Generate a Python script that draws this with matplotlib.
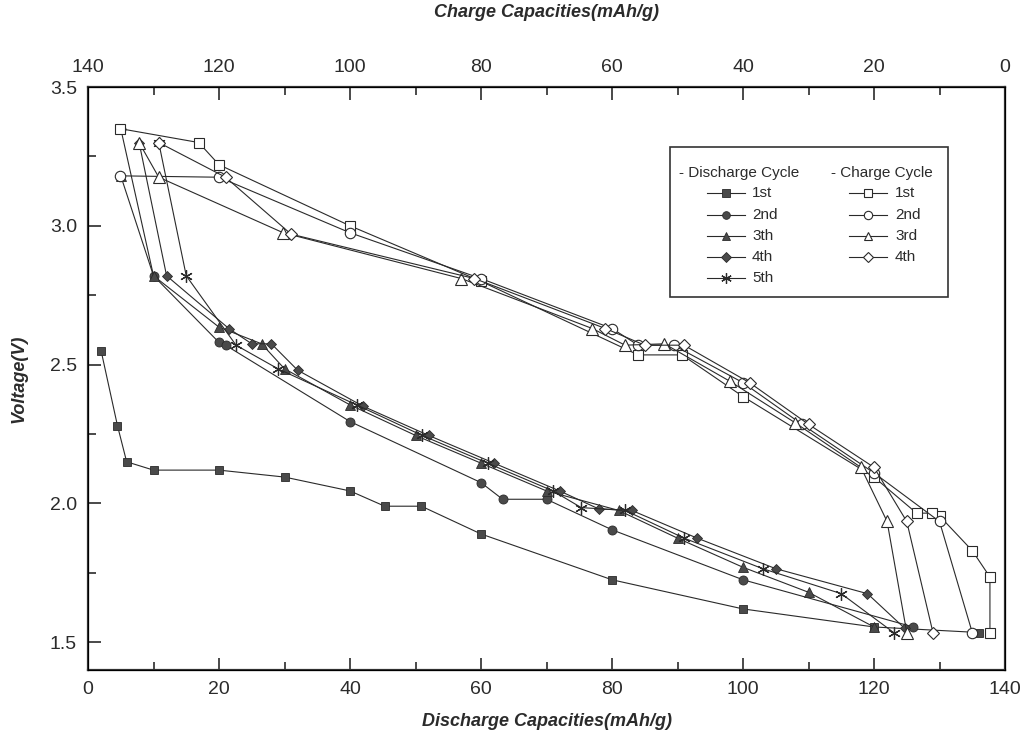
import matplotlib
matplotlib.use('Agg')
import matplotlib.pyplot as plt
from matplotlib.lines import Line2D
from matplotlib.patches import Rectangle
from matplotlib.ticker import MultipleLocator, FormatStrFormatter

plt.rcParams['font.family'] = ['Liberation Sans', 'DejaVu Sans']

# Discharge curves, x = discharge capacity (mAh/g), bottom axis
dis1_x = [2, 4.5, 5.9, 10, 20, 30, 40, 45.3, 50.9, 60, 80, 100, 120, 136]
dis1_v = [2.55, 2.28, 2.15, 2.12, 2.12, 2.095, 2.045, 1.99, 1.99, 1.89, 1.725, 1.62, 1.555, 1.535]
dis2_x = [5, 10, 20, 21, 40, 60, 63.3, 70, 80, 100, 126]
dis2_v = [3.35, 2.82, 2.58, 2.57, 2.295, 2.075, 2.015, 2.015, 1.905, 1.725, 1.555]
dis3_x = [5, 10, 20, 26.5, 30, 40, 50, 60, 70, 81, 90, 100, 110, 120]
dis3_v = [3.18, 2.82, 2.635, 2.575, 2.485, 2.355, 2.245, 2.145, 2.045, 1.975, 1.875, 1.77, 1.68, 1.555]
dis4_x = [7.8, 12, 21.5, 25, 28, 32, 42, 52, 62, 72, 78, 83, 93, 105, 119, 124.7]
dis4_v = [3.30, 2.82, 2.63, 2.575, 2.575, 2.48, 2.35, 2.245, 2.145, 2.045, 1.98, 1.975, 1.875, 1.765, 1.675, 1.55]
dis5_x = [10.8, 15, 22.6, 29, 41, 51, 61, 71, 75.3, 82, 91, 103, 115, 123]
dis5_v = [3.30, 2.82, 2.57, 2.485, 2.355, 2.245, 2.145, 2.045, 1.985, 1.975, 1.875, 1.765, 1.675, 1.535]

# Charge curves, x = charge capacity (mAh/g), top axis (reversed)
chg1_x = [2.3, 2.3, 5, 10, 11.2, 13.5, 20, 40, 49.3, 56, 80, 100, 120, 123.1, 135.1]
chg1_v = [1.535, 1.735, 1.83, 1.955, 1.965, 1.965, 2.095, 2.385, 2.535, 2.535, 2.80, 3.00, 3.22, 3.30, 3.35]
chg2_x = [5, 10, 20, 31, 40, 50.6, 56, 60, 80, 100, 120, 135.1]
chg2_v = [1.535, 1.935, 2.11, 2.285, 2.435, 2.57, 2.57, 2.63, 2.81, 2.975, 3.175, 3.18]
chg3_x = [15, 18, 22, 32, 42, 52, 58, 63, 83, 110.2, 129.2, 132.2]
chg3_v = [1.535, 1.935, 2.13, 2.29, 2.44, 2.575, 2.57, 2.63, 2.81, 2.975, 3.175, 3.30]
chg4_x = [11, 15, 20, 30, 39, 49, 55, 61, 81, 109, 119, 129.2]
chg4_v = [1.535, 1.935, 2.13, 2.285, 2.435, 2.57, 2.57, 2.63, 2.81, 2.97, 3.175, 3.30]

dis_labels = ['1st', '2nd', '3th', '4th', '5th']
chg_labels = ['1st', '2nd', '3rd', '4th']

line_c = '#2a2a2a'
fill_c = '#4a4a4a'
text_c = '#2b2b2b'

fig = plt.figure(figsize=(10.23, 7.35), dpi=100)
ax = fig.add_axes([88 / 1023, 1 - 670 / 735, 917 / 1023, 583 / 735])

dis_data = [(dis1_x, dis1_v, 's', 6), (dis2_x, dis2_v, 'o', 6.5), (dis3_x, dis3_v, '^', 7),
            (dis4_x, dis4_v, 'D', 5.5), (dis5_x, dis5_v, (6, 2, 0), 9)]
for (x, v, m, ms) in dis_data:
    if m == (6, 2, 0):
        ax.plot(x, v, color=line_c, lw=0.8, marker=m, ms=ms, mec=line_c, mew=0.9)
    else:
        ax.plot(x, v, color=line_c, lw=0.8, marker=m, ms=ms, mfc=fill_c, mec=line_c, mew=0.6)

ax.set_xlim(0, 140)
ax.set_ylim(1.4, 3.5)
ax.xaxis.set_major_locator(MultipleLocator(20))
ax.xaxis.set_minor_locator(MultipleLocator(10))
ax.yaxis.set_major_locator(MultipleLocator(0.5))
ax.yaxis.set_minor_locator(MultipleLocator(0.25))
ax.yaxis.set_major_formatter(FormatStrFormatter('%.1f'))
ax.tick_params(which='both', direction='in', top=False, right=False, labelsize=14, width=1.2, colors=text_c)
ax.tick_params(which='major', length=9)
ax.tick_params(which='minor', length=6)
ax.tick_params(axis='x', pad=8)
ax.tick_params(axis='y', pad=8)
for s in ax.spines.values():
    s.set_linewidth(1.6)
    s.set_color('#333333')
ax.set_xlabel('Discharge Capacities(mAh/g)', fontsize=13, fontweight='bold', style='italic', color=text_c, labelpad=11)
ax.set_ylabel('Voltage(V)', fontsize=13, fontweight='bold', style='italic', color=text_c, labelpad=16)

ax2 = ax.twiny()
ax2.set_xlim(140, 0)
chg_data = [(chg1_x, chg1_v, 's', 7), (chg2_x, chg2_v, 'o', 7.5), (chg3_x, chg3_v, '^', 8), (chg4_x, chg4_v, 'D', 6)]
for (x, v, m, ms) in chg_data:
    ax2.plot(x, v, color=line_c, lw=0.8, marker=m, ms=ms, mfc='white', mec=line_c, mew=0.8)
ax2.xaxis.set_major_locator(MultipleLocator(20))
ax2.xaxis.set_minor_locator(MultipleLocator(10))
ax2.tick_params(which='both', direction='in', labelsize=14, width=1.2, colors=text_c, pad=8)
ax2.tick_params(which='major', length=9)
ax2.tick_params(which='minor', length=6)
ax2.set_xlabel('Charge Capacities(mAh/g)', fontsize=13, fontweight='bold', style='italic', color=text_c, labelpad=30)

# legend drawn by hand: two headed columns
def fx(px):
    return (px - 88) / 917

def fy(py):
    return (670 - py) / 583

ax2.add_patch(Rectangle((fx(670), fy(297)), fx(948) - fx(670), fy(147) - fy(297), transform=ax2.transAxes,
                        fill=True, facecolor='white', edgecolor='#333333', lw=1.2, zorder=5))
ax2.text(fx(679), fy(173), '- Discharge Cycle', transform=ax2.transAxes, fontsize=11, va='center', color=text_c, zorder=6)
ax2.text(fx(831), fy(173), '- Charge Cycle', transform=ax2.transAxes, fontsize=11, va='center', color=text_c, zorder=6)
rows = [193, 215, 236, 257, 278]
for i, (lab, (x, v, m, ms)) in enumerate(zip(dis_labels, dis_data)):
    y = fy(rows[i])
    if m == (6, 2, 0):
        kw = dict(mec=line_c, mew=0.9)
    else:
        kw = dict(mfc=fill_c, mec=line_c, mew=0.6)
    ax2.add_line(Line2D([fx(707), fx(745)], [y, y], transform=ax2.transAxes, color=line_c, lw=0.8, zorder=6))
    ax2.add_line(Line2D([fx(726)], [y], transform=ax2.transAxes, marker=m, ms=ms * 0.85, color=line_c, zorder=7, **kw))
    ax2.text(fx(752), y, lab, transform=ax2.transAxes, fontsize=11, va='center', color=text_c, zorder=6)
for i, (lab, (x, v, m, ms)) in enumerate(zip(chg_labels, chg_data)):
    y = fy(rows[i])
    ax2.add_line(Line2D([fx(849), fx(887)], [y, y], transform=ax2.transAxes, color=line_c, lw=0.8, zorder=6))
    ax2.add_line(Line2D([fx(868)], [y], transform=ax2.transAxes, marker=m, ms=ms * 0.8, color=line_c,
                        mfc='white', mec=line_c, mew=0.8, zorder=7))
    ax2.text(fx(895), y, lab, transform=ax2.transAxes, fontsize=11, va='center', color=text_c, zorder=6)

fig.savefig('out.png', dpi=100)
